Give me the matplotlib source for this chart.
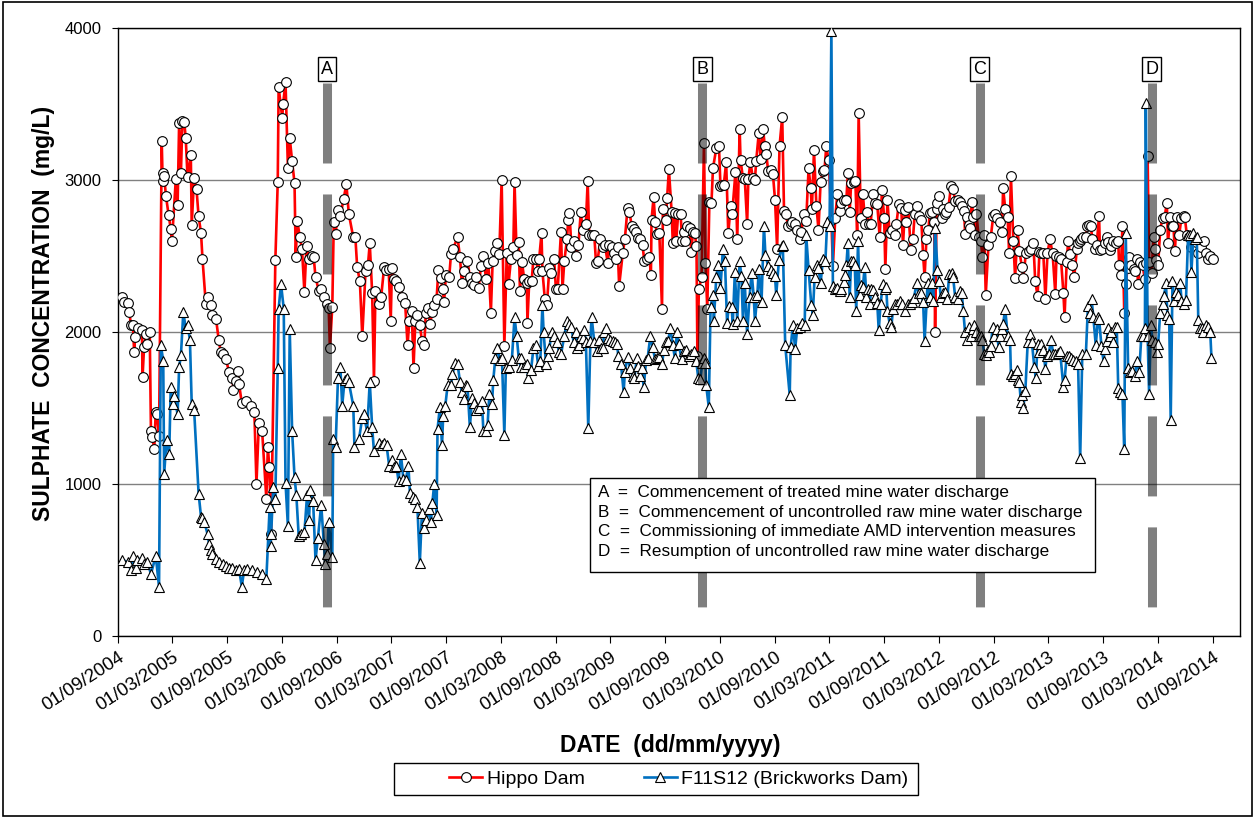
import pandas as pd
import matplotlib
matplotlib.use("Agg")
import matplotlib.pyplot as plt
import matplotlib.dates as mdates
from matplotlib.patches import Rectangle

plt.rcParams['font.family'] = ['Liberation Sans', 'DejaVu Sans']
plt.rcParams['lines.scale_dashes'] = False

START = pd.Timestamp("2004-09-01")

# sampling dates as days after 01/09/2004, sulphate in mg/L
hippo_day = [
    15, 20, 35, 38, 43, 50, 54, 57, 68, 80, 82, 87, 93, 98, 106, 110, 115, 121, 126, 130, 137,
    146, 149, 151, 154, 160, 169, 176, 180, 193, 199, 204, 210, 215, 221, 226, 232, 243, 246, 254,
    262, 269, 277, 282, 293, 302, 310, 315, 327, 336, 343, 349, 360, 371, 382, 385, 393, 399, 404,
    413, 427, 443, 455, 462, 470, 481, 495, 500, 505, 511, 525, 533, 536, 548, 551, 559, 567, 573,
    581, 589, 593, 598, 607, 614, 622, 629, 637, 648, 653, 659, 670, 678, 687, 696, 703, 707, 715,
    720, 726, 734, 742, 753, 762, 770, 785, 792, 798, 807, 815, 826, 834, 840, 848, 854, 859, 870,
    878, 888, 894, 903, 910, 914, 921, 929, 938, 949, 958, 966, 972, 980, 986, 992, 999, 1007,
    1014, 1022, 1027, 1033, 1041, 1049, 1055, 1063, 1069, 1077, 1083, 1088, 1094, 1105, 1111, 1118,
    1133, 1141, 1147, 1155, 1166, 1174, 1181, 1189, 1196, 1203, 1211, 1219, 1228, 1236, 1244, 1250,
    1259, 1266, 1272, 1280, 1289, 1297, 1303, 1311, 1319, 1323, 1330, 1337, 1341, 1348,
    1355, 1364, 1366, 1372, 1380, 1386, 1394, 1402, 1405, 1413, 1416, 1424, 1431, 1439, 1444, 1455,
    1461, 1467, 1478, 1483, 1489, 1498, 1502, 1506, 1513, 1520, 1528, 1536, 1544, 1550, 1561, 1567,
    1572, 1580, 1589, 1595, 1600, 1609, 1617, 1625, 1634, 1639, 1647, 1654, 1661, 1667, 1672, 1684,
    1691, 1700, 1706, 1714, 1720, 1728, 1736, 1743, 1750, 1756, 1765, 1773, 1778, 1780, 1787, 1792,
    1798, 1806, 1815, 1818, 1827, 1832, 1838, 1847, 1851, 1858, 1862, 1869, 1877, 1882, 1888, 1893,
    1899, 1907, 1913, 1918, 1924, 1930, 1933, 1938, 1947, 1955, 1960, 1966, 1973, 1980, 1985, 1996,
    2005, 2010, 2016, 2021, 2029, 2036, 2044, 2049, 2060, 2066, 2074, 2077, 2085, 2091, 2099, 2103,
    2110, 2118, 2125, 2129, 2138, 2144, 2152, 2158, 2163, 2169, 2177, 2185, 2192, 2199, 2207, 2216,
    2222, 2227, 2236, 2244, 2248, 2257, 2266, 2274, 2280, 2288, 2296, 2304, 2311, 2315, 2322, 2330,
    2337, 2344, 2352, 2357, 2363, 2371, 2380, 2385, 2393, 2400, 2408, 2413, 2422, 2430, 2435, 2441,
    2446, 2455, 2460, 2466, 2471, 2478, 2485, 2493, 2500, 2504, 2511, 2519, 2527, 2533, 2541, 2549,
    2556, 2560, 2567, 2574, 2582, 2591, 2597, 2605, 2613, 2619, 2625, 2630, 2636, 2645, 2652, 2658,
    2664, 2671, 2680, 2686, 2691, 2697, 2704, 2708, 2715, 2723, 2726, 2731, 2734, 2740, 2749, 2753,
    2760, 2764, 2771, 2779, 2786, 2793, 2801, 2809, 2815, 2823, 2826, 2834, 2840, 2842, 2849, 2853,
    2860, 2864, 2871, 2879, 2884, 2890, 2895, 2904, 2912, 2920, 2927, 2934, 2942, 2949, 2953, 2960,
    2968, 2973, 2979, 2987, 2993, 3001, 3007, 3016, 3020, 3029, 3038, 3046, 3054, 3060, 3068, 3074,
    3079, 3087, 3094, 3101, 3109, 3118, 3127, 3131, 3138, 3146, 3154, 3158, 3165, 3170, 3176, 3184,
    3190, 3199, 3203, 3210, 3214, 3221, 3229, 3234, 3240, 3245, 3251, 3259, 3265, 3273, 3276, 3284,
    3292, 3299, 3303, 3310, 3314, 3321, 3329, 3337, 3340, 3345, 3351, 3357, 3362, 3368, 3373, 3381,
    3388, 3392, 3399, 3403, 3410, 3418, 3426, 3429, 3435, 3440, 3448, 3455, 3459, 3462, 3470, 3477,
    3485, 3492, 3499, 3503, 3510, 3515, 3521, 3526, 3532, 3540, 3548, 3555, 3559, 3566, 3574, 3581,
    3588, 3596, 3604, 3613, 3622, 3629, 3637, 3644, 3652,
]
hippo_so4 = [
    2231, 2200, 2192, 2132, 2049, 2044, 1867, 1966, 2028, 2010, 1703, 1898, 1984, 1919, 1997, 1351, 1307, 1229, 1476, 1463, 1315,
    3255, 2994, 3044, 3025, 2895, 2770, 2679, 2596, 3005, 2835, 3372, 3046, 3390, 3382, 3278, 3020, 3163, 2705, 3012,
    2940, 2760, 2653, 2481, 2184, 2231, 2179, 2114, 2088, 1950, 1867, 1854, 1820, 1737, 1697, 1619, 1679, 1742, 1658,
    1533, 1549, 1515, 1476, 1002, 1398, 1346, 903, 1242, 1111, 669, 2471, 2986, 3611, 3408, 3502, 3643, 3077, 3278,
    3122, 2981, 2492, 2731, 2622, 2544, 2262, 2565, 2479, 2497, 2492, 2361, 2270, 2283, 2231, 2184, 2158, 1893, 2166,
    2726, 2643, 2804, 2765, 2877, 2973, 2778, 2622, 2622, 2427, 2335, 1971, 2401, 2440, 2583, 2257, 1679, 2270, 2184,
    2231, 2426, 2408, 2414, 2075, 2419, 2348, 2335, 2296, 2231, 2192, 1913, 2070, 2140, 1762, 2070, 2114, 2049,
    1940, 1913, 2127, 2158, 2054, 2132, 2179, 2218, 2408, 2356, 2283, 2200, 2374, 2361, 2512, 2549,
    2622, 2492, 2322, 2401, 2466, 2361, 2322, 2309, 2361, 2288, 2434, 2499, 2348, 2453, 2127, 2466,
    2531, 2583, 2512, 3000, 1906, 2518, 2315, 2479, 2557, 2986, 2505, 2591, 2270, 2460,
    2348, 2322, 2062, 2335, 2335, 2479, 2479, 2401, 2479, 2648, 2401, 2218, 2179, 2419, 2388, 2479,
    2283, 2283, 2661, 2283, 2466, 2609, 2739, 2783, 2557, 2596, 2497, 2570, 2791, 2674, 2713, 2992,
    2635, 2635, 2635, 2453, 2466, 2609, 2557, 2570, 2453, 2570, 2557, 2518, 2479, 2557, 2304, 2518,
    2609, 2817, 2791, 2700, 2679, 2661, 2617, 2609, 2570, 2466, 2479, 2492, 2374, 2739, 2888, 2726,
    2643, 2648, 2153, 2809, 2739, 2882, 3070, 2791, 2583, 2783, 2596, 2778, 2778, 2596, 2661, 2596,
    2700, 2687, 2523, 2661, 2648, 2565, 1841, 2283, 2361, 3242, 2453, 2153, 2856, 2851, 3077, 3208,
    3221, 2960, 2966, 2966, 3117, 2648, 2830, 2778, 3051, 2609, 3338, 3130, 3012, 3007, 2713, 3007,
    3117, 3012, 3000, 3122, 3312, 3137, 3338, 3221, 3169, 3059, 3064, 3038, 2869, 2549, 3221, 3416,
    2799, 2778, 2700, 2713, 2726, 2713, 2674, 2609, 2661, 2778, 2731, 3077, 2947, 2809, 3195, 2830,
    2674, 2986, 3059, 3064, 3221, 3130, 2739, 2434, 2752, 2908, 2799, 2851, 2869, 2869, 3044, 2791,
    2981, 2986, 2992, 2635, 3442, 2747, 2908, 2713, 2791, 2713, 2713, 2908, 2851, 2843, 2627, 2934,
    2752, 2414, 2869, 2653, 2674, 2635, 2713, 2843, 2817, 2570, 2804, 2726, 2825, 2538, 2609, 2778,
    2830, 2765, 2739, 2505, 2361, 2609, 2674, 2783, 2791, 2721, 1997, 2809, 2851, 2895, 2752, 2809,
    2778, 2791, 2825, 2960, 2940, 2861, 2869, 2856, 2830, 2799, 2643, 2757, 2705, 2687, 2856, 2757,
    2635, 2778, 2627, 2596, 2492, 2635, 2244, 2570, 2627, 2765, 2773, 2752, 2726, 2661, 2947, 2809,
    2757, 2518, 3025, 2596, 2356, 2674, 2531, 2427, 2356, 2518, 2531, 2544, 2583, 2335, 2236, 2523,
    2518, 2518, 2218, 2518, 2609, 2518, 2252, 2497, 2492, 2479, 2257, 2101, 2460, 2601, 2512, 2440,
    2361, 2544, 2583, 2596, 2609, 2622, 2627, 2700, 2705, 2700, 2609, 2544, 2570, 2765, 2538, 2549,
    2583, 2622, 2591, 2538, 2565, 2601, 2583, 2596, 2440, 2374, 2695, 2127, 2315, 2419, 2492, 2440,
    2414, 2401, 2479, 2315, 2460, 2440, 2348, 2453, 3156, 2460, 2388, 2627, 2544, 2471, 2440, 2674,
    2752, 2757, 2851, 2583, 2757, 2700, 2700, 2531, 2757, 2635, 2752, 2765, 2757, 2635, 2627, 2557,
    2596, 2591, 2518, 2557, 2596, 2518, 2479, 2497, 2479,
]

brick_day = [
    15, 32, 43, 51, 59, 65, 80, 87, 98, 110, 126, 137, 143, 151, 154, 162, 171, 176, 182, 187, 199,
    204, 210, 218, 226, 232, 240, 246, 254, 269, 277, 282, 288, 299, 304, 310, 315, 327, 338, 349,
    360, 371, 382, 393, 404, 413, 421, 432, 447, 464, 481, 495, 506, 509, 511, 518, 525, 533, 536,
    544, 553, 559, 567, 573, 581, 589, 595, 603, 611, 622, 631, 637, 642, 651, 659, 667, 678, 687,
    692, 698, 703, 715, 718, 726, 734, 742, 748, 756, 765, 770, 785, 789, 804, 815, 820, 831, 840,
    848, 854, 870, 881, 888, 896, 905, 914, 921, 929, 936, 944, 952, 960, 969, 974, 983, 992, 999,
    1007, 1014, 1022, 1029, 1036, 1044, 1049, 1055, 1063, 1066, 1074, 1081, 1085, 1092, 1100, 1111,
    1116, 1125, 1133, 1141, 1147, 1155, 1161, 1166, 1174, 1181, 1189, 1196, 1205, 1214, 1219, 1228,
    1233, 1239, 1248, 1252, 1259, 1266, 1274, 1281, 1289, 1294, 1303, 1314, 1323, 1330, 1337, 1344,
    1346, 1355, 1364, 1369, 1378, 1386, 1394, 1402, 1409, 1416, 1420, 1428, 1433, 1439, 1447, 1455,
    1464, 1472, 1478, 1489, 1498, 1506, 1513, 1520, 1528, 1533, 1539, 1544, 1550, 1556, 1561, 1569,
    1576, 1580, 1589, 1598, 1606, 1611, 1617, 1622, 1628, 1634, 1642, 1650, 1658, 1665, 1669, 1678,
    1687, 1691, 1700, 1709, 1717, 1723, 1731, 1736, 1743, 1747, 1754, 1762, 1767, 1776, 1784, 1792,
    1798, 1806, 1815, 1821, 1827, 1835, 1843, 1851, 1858, 1865, 1871, 1880, 1888, 1896, 1904, 1913,
    1921, 1929, 1936, 1943, 1949, 1955, 1960, 1962, 1971, 1977, 1985, 1988, 1996, 2002, 2010, 2018,
    2025, 2032, 2038, 2047, 2051, 2058, 2066, 2074, 2080, 2085, 2091, 2099, 2107, 2114, 2121, 2125,
    2133, 2138, 2147, 2155, 2160, 2169, 2177, 2185, 2192, 2196, 2205, 2214, 2218, 2226, 2241, 2244,
    2252, 2259, 2266, 2274, 2282, 2291, 2296, 2304, 2313, 2318, 2324, 2333, 2337, 2344, 2352, 2360,
    2366, 2374, 2380, 2385, 2393, 2400, 2408, 2413, 2422, 2426, 2430, 2435, 2441, 2446, 2452, 2458,
    2463, 2469, 2474, 2478, 2485, 2491, 2497, 2502, 2508, 2513, 2519, 2524, 2533, 2538, 2544, 2552,
    2558, 2563, 2567, 2574, 2580, 2586, 2593, 2600, 2608, 2616, 2625, 2634, 2641, 2649, 2656, 2664,
    2671, 2678, 2686, 2691, 2701, 2708, 2715, 2720, 2726, 2734, 2740, 2745, 2753, 2760, 2767, 2773,
    2782, 2786, 2793, 2801, 2809, 2815, 2820, 2826, 2834, 2840, 2845, 2851, 2857, 2864, 2871, 2879,
    2884, 2890, 2895, 2901, 2907, 2912, 2918, 2923, 2931, 2938, 2942, 2949, 2953, 2960, 2968, 2976,
    2979, 2985, 2993, 2998, 3001, 3007, 3012, 3016, 3020, 3027, 3035, 3042, 3049, 3057, 3062, 3068,
    3074, 3079, 3087, 3094, 3098, 3105, 3113, 3120, 3127, 3135, 3143, 3154, 3158, 3165, 3173, 3181,
    3187, 3195, 3203, 3210, 3217, 3229, 3236, 3243, 3248, 3254, 3262, 3270, 3273, 3281, 3288, 3292,
    3299, 3303, 3310, 3314, 3321, 3325, 3332, 3337, 3343, 3351, 3357, 3362, 3370, 3377, 3384, 3392,
    3399, 3407, 3414, 3421, 3426, 3429, 3435, 3440, 3446, 3451, 3459, 3466, 3470, 3477, 3485, 3490,
    3496, 3501, 3507, 3512, 3518, 3524, 3529, 3537, 3544, 3548, 3555, 3563, 3570, 3577, 3581, 3588,
    3593, 3599, 3604, 3610, 3615, 3621, 3629, 3637, 3644, 3648,
]
brick_so4 = [
    500, 487, 434, 526, 448, 500, 513, 474, 487, 408, 526, 325, 1914, 1809, 1065, 1289, 1198, 1638, 1528, 1580, 1458,
    1768, 1846, 2132, 2023, 2044, 1950, 1528, 1489, 937, 786, 778, 752, 669, 604, 565, 539, 507, 487, 474,
    461, 448, 448, 434, 440, 325, 434, 440, 434, 421, 408, 377, 846, 591, 669, 981, 903, 1762, 2153,
    2315, 2153, 1007, 721, 2017, 1346, 1046, 929, 656, 669, 682, 929, 760, 961, 890, 500, 643, 864, 604,
    474, 539, 747, 518, 1294, 1242, 1697, 1768, 1515, 1684, 1697, 1671, 1515, 1242, 1294, 1437, 1463, 1346, 1671,
    1372, 1216, 1268, 1255, 1268, 1255, 1117, 1158, 1112, 1117, 1020, 1195, 1033, 1028, 1117, 942, 916, 898, 846,
    481, 812, 708, 760, 838, 747, 877, 1002, 799, 1359, 1507, 1255, 1450, 1515, 1653, 1653,
    1723, 1794, 1789, 1671, 1606, 1559, 1653, 1645, 1372, 1567, 1533, 1489, 1502, 1549, 1351, 1346,
    1385, 1593, 1528, 1684, 1828, 1893, 1815, 1828, 1325, 1762, 1768, 1815, 2096, 1976, 1828, 1768,
    1828, 1768, 1789, 1697, 1749, 1893, 1913, 1775, 1809, 2179, 1997, 1789, 1841, 1893, 1997, 1971,
    1932, 1867, 1854, 1971, 2070, 2054, 2036, 1932, 1997, 1893, 1913, 1976, 1958, 2010, 1932, 1367,
    1940, 2101, 1932, 1872, 1950, 1893, 1893, 1997, 2023, 1958, 1945, 1940, 1932, 1924, 1841, 1789,
    1606, 1736, 1835, 1762, 1710, 1697, 1828, 1775, 1710, 1762, 1638, 1815, 1828, 1971, 1898, 1820,
    1828, 1835, 1789, 1880, 1932, 1940, 2023, 1913, 1828, 2002, 1924, 1820, 1872, 1880, 1841, 1854,
    1872, 1809, 1697, 1690, 1794, 1828, 1794, 1653, 1507, 2166, 2244, 2075, 2361, 2440, 2288, 2544,
    2466, 2062, 2174, 2166, 2054, 2393, 2075, 2466, 2367, 2075, 2322, 1984, 2231, 2388, 2231, 2070,
    2244, 2414, 2200, 2700, 2505, 2434, 2408, 2388, 2367, 2244, 2471, 2565, 2570, 1913, 1585, 1898,
    2049, 1888, 2023, 2036, 2062, 2049, 2635, 2408, 2179, 2114, 2361, 2440, 2419, 2322, 2479, 2466,
    2726, 2700, 3981, 2304, 2283, 2288, 2270, 2283, 2330, 2374, 2440, 2583, 2231, 2466, 2466, 2440,
    2140, 2596, 2244, 2309, 2296, 2427, 2231, 2283, 2184, 2283, 2278, 2231, 2192, 2010, 2184, 2315,
    2283, 2296, 2140, 2062, 2036, 2153, 2184, 2184, 2205, 2184, 2140, 2184, 2184, 2200, 2226, 2322,
    2257, 2257, 2200, 1940, 2322, 2231, 2322, 2205, 2687, 2408, 2335, 2231, 2257, 2262, 2218, 2382,
    2388, 2361, 2231, 2218, 2270, 2257, 2140, 1997, 1945, 2036, 1971, 2018, 2049, 1997, 1971, 1976,
    1950, 1854, 1846, 1880, 1867, 1906, 2036, 1971, 2018, 1898, 1971, 2018, 2054, 2153, 1971, 1950,
    1723, 1710, 1723, 1749, 1684, 1671, 1541, 1585, 1502, 1611, 1932, 1984, 1932, 1768, 1697, 1919,
    1867, 1924, 1880, 1757, 1841, 1854, 1950, 1854, 1854, 1861, 1872, 1638, 1684, 1841, 1841, 1828,
    1815, 1809, 1789, 1169, 1854, 1854, 2174, 2127, 2218, 2096, 1913, 2101, 2088, 1906, 1809, 1888,
    1940, 2028, 1971, 1997, 1932, 2036, 2036, 1632, 1606, 1593, 1229, 2653, 1762, 1736, 1741, 1710,
    1809, 1736, 1971, 1971, 2028, 3507, 1971, 1593, 2049, 1945, 1932, 1867, 1919, 2127, 2184, 2236,
    2322, 2114, 2088, 1419, 2335, 2205, 2262, 2244, 2322, 2205, 2184, 2210, 2635, 2635, 2393, 2648,
    2609, 2627, 2080, 2023, 2023, 1997, 2049, 2036, 1997, 1828,
]

event_labels = ["A", "B", "C", "D"]
event_day = [698, 1950, 2875, 3448]
event_text = [
    "Commencement of treated mine water discharge",
    "Commencement of uncontrolled raw mine water discharge",
    "Commissioning of immediate AMD intervention measures",
    "Resumption of uncontrolled raw mine water discharge",
]


def to_dates(days):
    return START + pd.to_timedelta(days, unit="D")


hippo_t = to_dates(hippo_day)
brick_t = to_dates(brick_day)
event_t = to_dates(event_day)

fig = plt.figure(figsize=(12.55, 8.18), dpi=100)
ax = fig.add_axes([0.094, 0.2225, 0.894, 0.7433])

h1, = ax.plot(hippo_t, hippo_so4, color="#ff0000", lw=1.9, marker="o", ms=7,
              mfc="white", mec="black", mew=0.8, zorder=3, label="Hippo Dam")
h2, = ax.plot(brick_t, brick_so4, color="#0070c0", lw=1.9, marker="^", ms=7.5,
              mfc="white", mec="black", mew=0.8, zorder=4, label="F11S12 (Brickworks Dam)")

# dashed grey event markers
for lab, t in zip(event_labels, event_t):
    ax.plot([t, t], [3635, 146], color="black", alpha=0.5, lw=6.5,
            dashes=(57.6, 22.3), dash_capstyle="butt", zorder=5)
    ax.text(t, 3730, lab, ha="center", va="center", fontsize=13, zorder=6,
            bbox=dict(boxstyle="square,pad=0.18", fc="white", ec="black", lw=1))

# event description box
ax.add_patch(Rectangle((0.4207, 0.1053), 0.4501, 0.1546, transform=ax.transAxes,
                       fc="white", ec="black", lw=1, zorder=7))
lines = [f"{lab}  =  {txt}" for lab, txt in zip(event_labels, event_text)]
ax.text(0.4278, 0.2480, "\n".join(lines), transform=ax.transAxes, ha="left", va="top",
        fontsize=12.3, linespacing=1.38, zorder=8)

ax.set_xlim(START, pd.Timestamp("2014-12-01"))
ax.set_ylim(0, 4000)
ax.set_yticks([0, 1000, 2000, 3000, 4000])
ax.yaxis.grid(True, color="#808080", lw=1)
ax.set_axisbelow(True)

ax.xaxis.set_major_locator(mdates.MonthLocator(bymonth=(3, 9), bymonthday=1))
ax.xaxis.set_major_formatter(mdates.DateFormatter("%d/%m/%Y"))
for lbl in ax.get_xticklabels():
    lbl.set_rotation(33)
    lbl.set_ha("right")
    lbl.set_rotation_mode("anchor")
ax.tick_params(axis="x", direction="out", length=5, labelsize=13.5, pad=4)
ax.tick_params(axis="y", direction="out", length=4, labelsize=12, pad=8)
for s in ax.spines.values():
    s.set_color("black")
    s.set_linewidth(1)

ax.set_xlabel("DATE  (dd/mm/yyyy)", fontsize=16.5, fontweight="bold")
ax.xaxis.set_label_coords(0.492, -0.162)
ax.set_ylabel("SULPHATE  CONCENTRATION  (mg/L)", fontsize=16.5, fontweight="bold")
ax.yaxis.set_label_coords(-0.056, 0.531)

# legend: entries without frame, frame drawn as its own box
leg = fig.legend(handles=[h1, h2], loc="center", bbox_to_anchor=(679 / 1255, 1 - 779 / 818),
                 ncol=2, fontsize=14, frameon=False, handlelength=1.7, handletextpad=0.25,
                 columnspacing=3.0)
fig.patches.append(Rectangle((394 / 1255, 1 - 795 / 818), 524 / 1255, 32 / 818,
                             transform=fig.transFigure, fill=False, ec="black", lw=1))

fig.patches.append(Rectangle((0.002, 0.002), 0.996, 0.996, transform=fig.transFigure,
                             fill=False, ec="black", lw=1.2))

fig.savefig("out.png", dpi=100)
